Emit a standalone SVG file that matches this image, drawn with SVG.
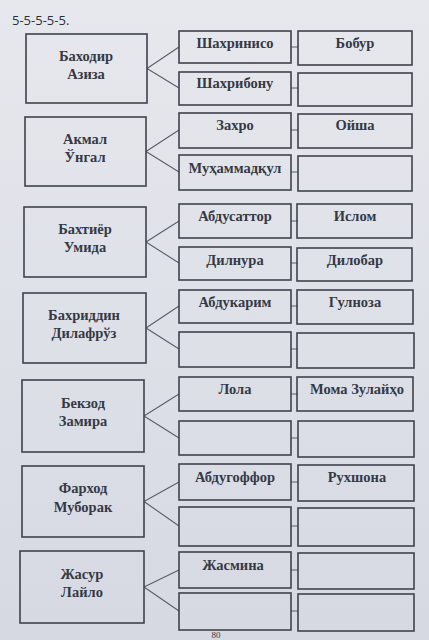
<svg xmlns="http://www.w3.org/2000/svg" width="429" height="640" viewBox="0 0 429 640">
<defs>
<linearGradient id="bg" x1="0" y1="0" x2="0" y2="1">
<stop offset="0" stop-color="#e6e8ed"/>
<stop offset="1" stop-color="#d6d9e2"/>
</linearGradient>
</defs>
<style>
.box{fill:none;stroke:#3f434d;stroke-width:1.6}
.ln{stroke:#5a5e68;stroke-width:1.1;fill:none}
.t{font-family:"Liberation Serif","DejaVu Serif",serif;font-weight:bold;font-size:14.5px;fill:#353945;text-anchor:middle}
.h{font-family:"Open Sans","Liberation Sans",sans-serif;font-size:13px;fill:#2c3038}
</style>
<rect width="429" height="640" fill="url(#bg)"/>
<text class="h" x="12" y="25">5-5-5-5-5.</text>

<g id="connectors">
<path class="ln" d="M147,68.5 L179,47 M147,68.5 L179,88"/>
<path class="ln" d="M146,151.5 L179,130 M146,151.5 L179,172"/>
<path class="ln" d="M146,242 L179,221 M146,242 L179,263"/>
<path class="ln" d="M146,328 L179,306 M146,328 L179,349"/>
<path class="ln" d="M144,416 L179,394 M144,416 L179,438"/>
<path class="ln" d="M144,501.5 L179,482 M144,501.5 L179,526"/>
<path class="ln" d="M144,587 L179,570 M144,587 L179,611"/>
<path class="ln" d="M291,47 H298 M291,88 H298 M291,130 H298 M291,172 H298 M291,221 H298 M291,263 H298 M291,306 H298 M291,349 H298 M291,394 H298 M291,438 H298 M291,482 H298 M291,526 H298 M291,570 H298 M291,611 H298"/>
</g>

<g id="p1"><rect class="box" x="26" y="34" width="121" height="69"/><text class="t" x="86" y="61">Баходир</text><text class="t" x="86" y="79">Азиза</text></g>
<g id="p2"><rect class="box" x="25" y="117" width="121" height="69"/><text class="t" x="85" y="144">Акмал</text><text class="t" x="85" y="162">Ўнгал</text></g>
<g id="p3"><rect class="box" x="24" y="207" width="122" height="70"/><text class="t" x="85" y="234">Бахтиёр</text><text class="t" x="85" y="252">Умида</text></g>
<g id="p4"><rect class="box" x="23" y="293" width="123" height="70"/><text class="t" x="84" y="320">Бахриддин</text><text class="t" x="84" y="338">Дилафрўз</text></g>
<g id="p5"><rect class="box" x="22" y="380" width="122" height="72"/><text class="t" x="83" y="408">Бекзод</text><text class="t" x="83" y="426">Замира</text></g>
<g id="p6"><rect class="box" x="22" y="466" width="122" height="71"/><text class="t" x="83" y="493">Фарход</text><text class="t" x="83" y="512">Муборак</text></g>
<g id="p7"><rect class="box" x="20" y="551" width="124" height="72"/><text class="t" x="82" y="579">Жасур</text><text class="t" x="82" y="597">Лайло</text></g>

<g id="m1"><rect class="box" x="179" y="31" width="112" height="32"/><text class="t" x="235" y="48">Шахринисо</text></g>
<g id="m2"><rect class="box" x="179" y="72" width="112" height="33"/><text class="t" x="235" y="88">Шахрибону</text></g>
<g id="m3"><rect class="box" x="179" y="113" width="112" height="35"/><text class="t" x="235" y="130">Захро</text></g>
<g id="m4"><rect class="box" x="179" y="155" width="112" height="35"/><text class="t" x="235" y="173">Муҳаммадқул</text></g>
<g id="m5"><rect class="box" x="179" y="204" width="112" height="34"/><text class="t" x="235" y="221">Абдусаттор</text></g>
<g id="m6"><rect class="box" x="179" y="247" width="112" height="33"/><text class="t" x="235" y="265">Дилнура</text></g>
<g id="m7"><rect class="box" x="179" y="290" width="112" height="33"/><text class="t" x="235" y="307">Абдукарим</text></g>
<g id="m8"><rect class="box" x="179" y="332" width="112" height="35"/></g>
<g id="m9"><rect class="box" x="179" y="377" width="112" height="34"/><text class="t" x="235" y="394">Лола</text></g>
<g id="m10"><rect class="box" x="179" y="421" width="112" height="34"/></g>
<g id="m11"><rect class="box" x="179" y="464" width="112" height="36"/><text class="t" x="235" y="482">Абдугоффор</text></g>
<g id="m12"><rect class="box" x="179" y="507" width="112" height="39"/></g>
<g id="m13"><rect class="box" x="179" y="552" width="112" height="36"/><text class="t" x="233" y="570">Жасмина</text></g>
<g id="m14"><rect class="box" x="179" y="593" width="112" height="37"/></g>

<g id="r1"><rect class="box" x="298" y="31" width="114" height="34"/><text class="t" x="355" y="48">Бобур</text></g>
<g id="r2"><rect class="box" x="298" y="73" width="114" height="33"/></g>
<g id="r3"><rect class="box" x="298" y="114" width="114" height="34"/><text class="t" x="355" y="130">Ойша</text></g>
<g id="r4"><rect class="box" x="298" y="156" width="114" height="35"/></g>
<g id="r5"><rect class="box" x="297" y="204" width="115" height="34"/><text class="t" x="355" y="221">Ислом</text></g>
<g id="r6"><rect class="box" x="297" y="248" width="115" height="33"/><text class="t" x="355" y="265">Дилобар</text></g>
<g id="r7"><rect class="box" x="297" y="290" width="116" height="34"/><text class="t" x="355" y="307">Гулноза</text></g>
<g id="r8"><rect class="box" x="297" y="333" width="117" height="35"/></g>
<g id="r9"><rect class="box" x="297" y="377" width="116" height="34"/><text class="t" x="357" y="394">Мома Зулайҳо</text></g>
<g id="r10"><rect class="box" x="298" y="421" width="116" height="36"/></g>
<g id="r11"><rect class="box" x="298" y="465" width="116" height="36"/><text class="t" x="357" y="482">Рухшона</text></g>
<g id="r12"><rect class="box" x="298" y="508" width="116" height="38"/></g>
<g id="r13"><rect class="box" x="298" y="553" width="116" height="36"/></g>
<g id="r14"><rect class="box" x="298" y="594" width="116" height="37"/></g>

<text class="t" x="216" y="637.5" style="font-weight:normal;font-size:9px">80</text>
</svg>
